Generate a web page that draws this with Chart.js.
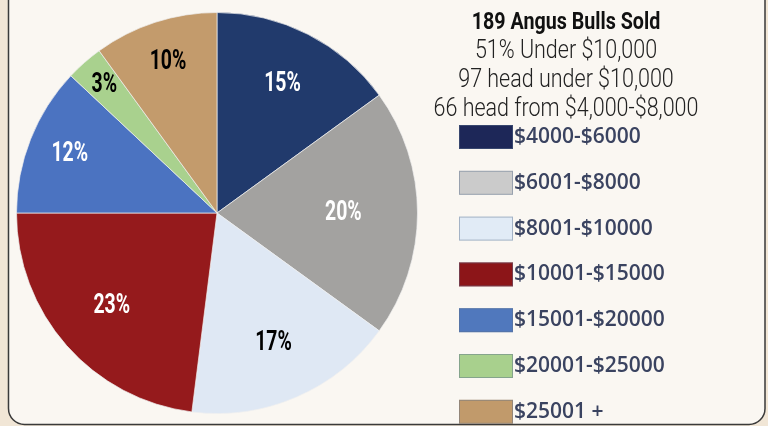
<!DOCTYPE html>
<html><head><meta charset="utf-8">
<script src="https://cdn.jsdelivr.net/npm/chart.js@4.4.0/dist/chart.umd.min.js"></script>
<style>html,body{margin:0;padding:0;background:#f1e6d6;}canvas{display:block;}</style>
</head><body><canvas id="c" width="768" height="426"></canvas>
<script>
const categories = ['$4000-$6000','$6001-$8000','$8001-$10000','$10001-$15000','$15001-$20000','$20001-$25000','$25001 +'];
const percentages = [15, 20, 17, 23, 12, 3, 10];
const titleLines = ['189 Angus Bulls Sold','51% Under $10,000','97 head under $10,000','66 head from $4,000-$8,000'];

const sliceColors = ['#213a6c','#a3a2a0','#dfe8f4','#951a1c','#4b73c1','#a9d18e','#c39b6c'];
const swatchColors = ['#1d2758','#cbcbcb','#e1ebf6','#8c1518','#5078bd','#a8d08d','#c19a6b'];
const labelColors = ['#ffffff','#ffffff','#000000','#ffffff','#ffffff','#000000','#000000'];
const labelRadius = [0.72, 0.63, 0.71, 0.70, 0.79, 0.85, 0.79];

function condensed(ctx, text, x, y, font, sx, align, color) {
  ctx.save();
  ctx.font = font;
  ctx.fillStyle = color;
  ctx.textAlign = align;
  ctx.textBaseline = 'alphabetic';
  ctx.translate(x, y);
  ctx.scale(sx, 1);
  ctx.fillText(text, 0, 0);
  ctx.restore();
}

const panelPlugin = {
  id: 'panel',
  beforeDraw(chart) {
    const ctx = chart.ctx;
    ctx.save();
    ctx.fillStyle = '#f1e6d6';
    ctx.fillRect(0, 0, chart.width, chart.height);
    const x0 = 8.5, x1 = 765, y0 = -30, y1 = 424.5, r = 16;
    ctx.beginPath();
    ctx.moveTo(x0, y0);
    ctx.lineTo(x1, y0);
    ctx.lineTo(x1, y1 - r);
    ctx.arcTo(x1, y1, x1 - r, y1, r);
    ctx.lineTo(x0 + r, y1);
    ctx.arcTo(x0, y1, x0, y1 - r, r);
    ctx.closePath();
    ctx.fillStyle = '#faf7f2';
    ctx.fill();
    ctx.lineWidth = 1.5;
    ctx.strokeStyle = '#3a3a3a';
    ctx.stroke();
    ctx.restore();
  }
};

const labelPlugin = {
  id: 'sliceLabels',
  afterDatasetsDraw(chart) {
    const ctx = chart.ctx;
    const meta = chart.getDatasetMeta(0);
    meta.data.forEach((arc, i) => {
      const p = arc.getProps(['x','y','startAngle','endAngle','outerRadius'], true);
      const mid = (p.startAngle + p.endAngle) / 2;
      const rr = p.outerRadius * labelRadius[i];
      const lx = p.x + Math.cos(mid) * rr;
      const ly = p.y + Math.sin(mid) * rr;
      ctx.save();
      ctx.font = 'bold 27px Roboto';
      ctx.fillStyle = labelColors[i];
      ctx.textAlign = 'center';
      ctx.textBaseline = 'middle';
      ctx.translate(lx, ly);
      ctx.scale(0.72, 1);
      ctx.fillText(chart.data.datasets[0].data[i] + '%', 0, 0);
      ctx.restore();
    });
  }
};

const sideLegendPlugin = {
  id: 'sideLegend',
  afterDraw(chart) {
    const ctx = chart.ctx;
    const cx = 566;
    condensed(ctx, titleLines[0], cx, 29, 'bold 24px Roboto', 0.82, 'center', '#111111');
    for (let i = 1; i < titleLines.length; i++) {
      condensed(ctx, titleLines[i], cx, 29 + 29 * i, '300 25px Roboto', 0.86, 'center', '#222222');
    }
    const labels = chart.data.labels;
    labels.forEach((lab, i) => {
      const top = 125 + i * 45.8;
      ctx.save();
      ctx.fillStyle = swatchColors[i];
      ctx.fillRect(459, top, 54, 24);
      ctx.strokeStyle = 'rgba(90,110,140,0.45)';
      ctx.lineWidth = 1;
      ctx.strokeRect(459.5, top + 0.5, 53, 23);
      ctx.font = '600 21px "Open Sans"';
      ctx.fillStyle = '#3a4360';
      ctx.textAlign = 'left';
      ctx.textBaseline = 'middle';
      ctx.fillText(lab, 514, top + 12);
      ctx.restore();
    });
  }
};

new Chart(document.getElementById('c'), {
  type: 'pie',
  data: {
    labels: categories,
    datasets: [{
      data: percentages,
      backgroundColor: sliceColors,
      borderColor: 'rgba(240,240,240,0.7)',
      borderWidth: 1
    }]
  },
  options: {
    responsive: false,
    devicePixelRatio: 1,
    animation: false,
    layout: { padding: { left: 16, right: 350, top: 12, bottom: 12 } },
    plugins: { legend: { display: false }, tooltip: { enabled: false }, title: { display: false } }
  },
  plugins: [panelPlugin, labelPlugin, sideLegendPlugin]
});
</script>
</body></html>
